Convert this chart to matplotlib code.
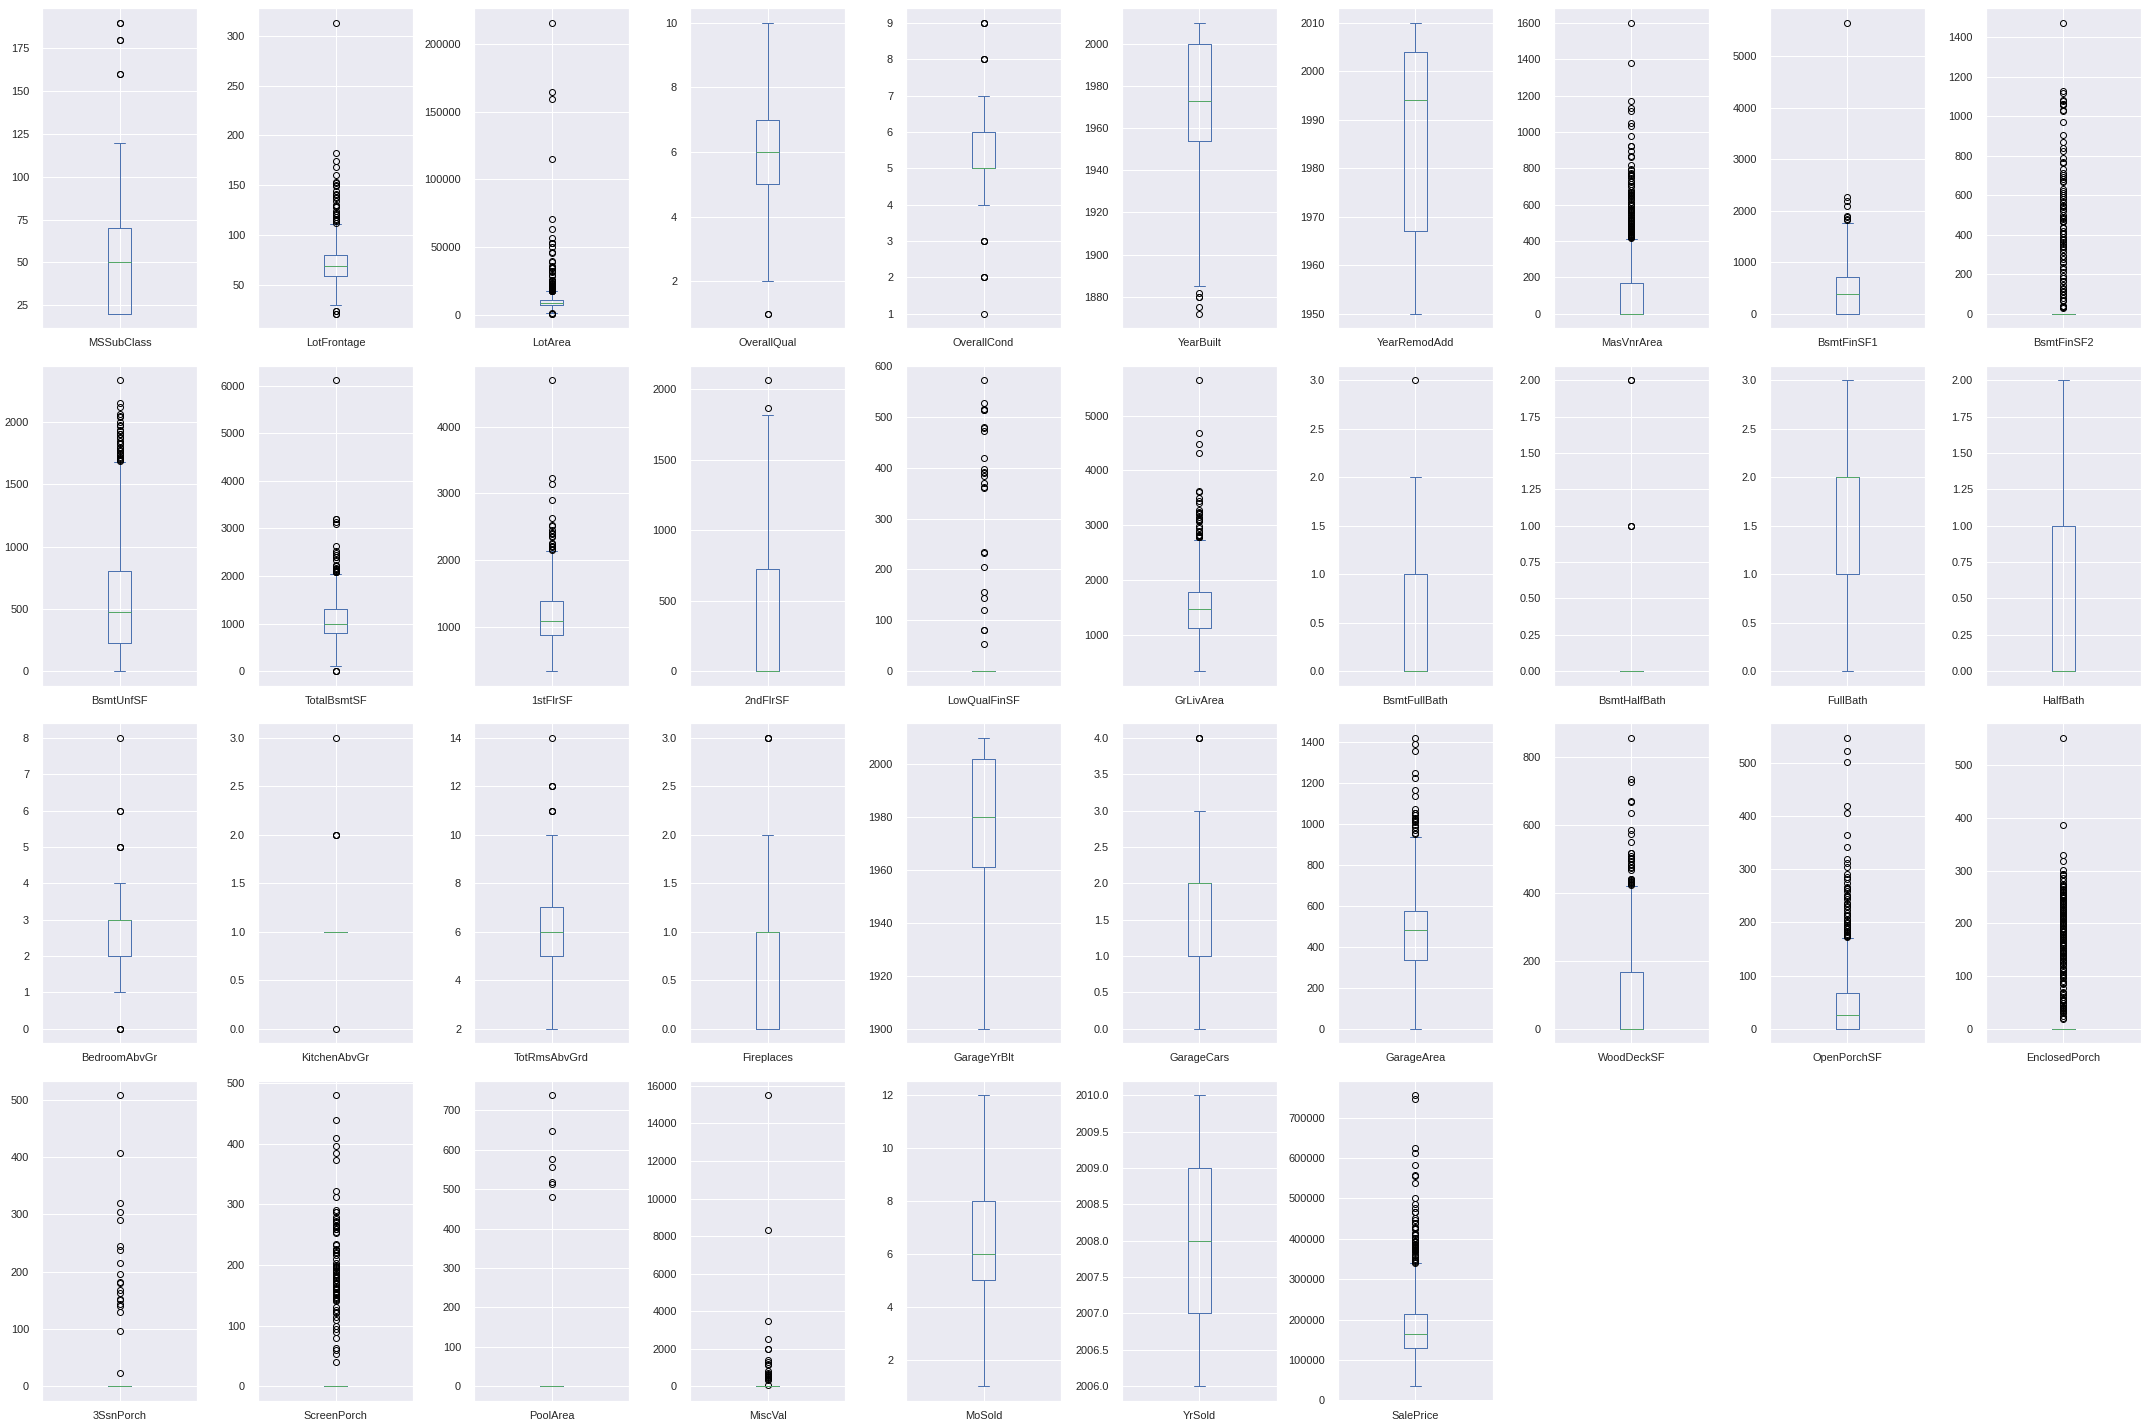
import matplotlib
matplotlib.use("Agg")
import matplotlib.pyplot as plt
import seaborn as sns

columns = ['MSSubClass', 'LotFrontage', 'LotArea', 'OverallQual', 'OverallCond', 'YearBuilt',
           'YearRemodAdd', 'MasVnrArea', 'BsmtFinSF1', 'BsmtFinSF2', 'BsmtUnfSF', 'TotalBsmtSF',
           '1stFlrSF', '2ndFlrSF', 'LowQualFinSF', 'GrLivArea', 'BsmtFullBath', 'BsmtHalfBath',
           'FullBath', 'HalfBath', 'BedroomAbvGr', 'KitchenAbvGr', 'TotRmsAbvGrd', 'Fireplaces',
           'GarageYrBlt', 'GarageCars', 'GarageArea', 'WoodDeckSF', 'OpenPorchSF', 'EnclosedPorch',
           '3SsnPorch', 'ScreenPorch', 'PoolArea', 'MiscVal', 'MoSold', 'YrSold', 'SalePrice']

q1 = [20, 59, 7553.5, 5, 5, 1954, 1967, 0, 0, 0,
      223, 795.75, 882, 0, 0, 1129.5, 0, 0, 1, 0,
      2, 1, 5, 0, 1961, 1, 334.5, 0, 0, 0,
      0, 0, 0, 0, 5, 2007, 129975]
med = [50, 69, 9478.5, 6, 5, 1973, 1994, 0, 383.5, 0,
       477.5, 991.5, 1087, 0, 0, 1464, 0, 0, 2, 0,
       3, 1, 6, 1, 1980, 2, 480, 0, 25, 0,
       0, 0, 0, 0, 6, 2008, 163000]
q3 = [70, 80, 11601.5, 7, 6, 2000, 2004, 166, 712.25, 0,
      808, 1298.25, 1391.25, 728, 0, 1776.75, 1, 0, 2, 1,
      3, 1, 7, 1, 2002, 2, 576, 168, 68, 0,
      0, 0, 0, 0, 8, 2009, 214000]
whis_lo = [20, 30, 1491, 2, 4, 1885, 1950, 0, 0, 0,
           0, 105, 334, 0, 0, 334, 0, 0, 0, 0,
           1, 1, 2, 0, 1900, 0, 0, 0, 0, 0,
           0, 0, 0, 0, 1, 2006, 34900]
whis_hi = [120, 111, 17671, 10, 7, 2010, 2010, 412, 1767, 0,
           1680, 2046, 2136, 1818, 0, 2730, 2, 0, 3, 2,
           4, 1, 10, 2, 2010, 3, 936, 420, 170, 0,
           0, 0, 0, 0, 12, 2010, 340000]

fliers = [
    [160, 160, 180, 180, 190, 190],
    [21, 21, 24, 24, 112, 114, 115, 116, 118, 120, 121, 122, 124, 128, 129, 130, 134, 137, 138,
     140, 141, 144, 149, 150, 152, 153, 160, 168, 174, 182, 313],
    [1300, 1300, 1477, 17755, 17871, 17920, 18030, 18386, 18450, 18800, 19138, 19296, 19378,
     19690, 19900, 20431, 20544, 20896, 21000, 21286, 21384, 21453, 21535, 21695, 21750, 21872,
     21930, 22420, 22950, 23257, 23595, 24090, 25095, 25286, 25339, 25419, 26142, 26178, 28698,
     29959, 31770, 32463, 32668, 34650, 35133, 35760, 36500, 39104, 40094, 45600, 46589, 50271,
     53107, 53227, 53504, 57200, 63887, 70761, 115149, 159000, 164660, 215245],
    [1, 1],
    [1, 2, 2, 2, 3, 3, 3, 8, 8, 8, 9, 9, 9],
    [1872, 1875, 1880, 1880, 1882],
    [],
    [416, 420, 424, 425, 426, 428, 430, 435, 436, 438, 442, 448, 450, 452, 456, 459, 464, 466,
     468, 472, 479, 480, 481, 491, 500, 506, 510, 513, 514, 523, 528, 530, 541, 554, 562, 567,
     571, 573, 576, 584, 594, 600, 604, 616, 630, 632, 640, 650, 651, 653, 660, 664, 668, 672,
     680, 700, 705, 714, 726, 731, 748, 760, 762, 766, 772, 788, 796, 816, 860, 870, 894, 921,
     922, 975, 1031, 1047, 1115, 1129, 1170, 1378, 1600],
    [1810, 1836, 1880, 1904, 2096, 2188, 2260, 5644],
    [28, 32, 35, 40, 41, 64, 68, 81, 93, 96, 108, 117, 123, 128, 147, 163, 168, 182, 193, 210,
     228, 239, 258, 264, 276, 290, 294, 311, 326, 336, 345, 352, 362, 374, 380, 391, 404, 411,
     420, 435, 441, 465, 469, 472, 479, 486, 492, 500, 522, 532, 543, 547, 551, 564, 580, 590,
     600, 612, 622, 630, 668, 670, 682, 692, 704, 712, 735, 764, 768, 791, 823, 841, 869, 906,
     973, 1029, 1031, 1057, 1061, 1063, 1080, 1085, 1120, 1127, 1474],
    [1689, 1694, 1702, 1710, 1721, 1734, 1746, 1752, 1768, 1777, 1790, 1800, 1826, 1836, 1848,
     1869, 1880, 1905, 1907, 1926, 1935, 1969, 1980, 2002, 2042, 2046, 2062, 2121, 2153, 2336],
    [0, 0, 0, 2076, 2077, 2078, 2109, 2110, 2121, 2136, 2153, 2158, 2216, 2223, 2330, 2392,
     2396, 2444, 2492, 2524, 2633, 3094, 3138, 3200, 3206, 6110],
    [2156, 2158, 2196, 2207, 2217, 2234, 2259, 2338, 2364, 2392, 2402, 2411, 2444, 2515, 2524,
     2633, 2898, 3138, 3228, 4692],
    [1872, 2065],
    [53, 80, 80, 120, 144, 156, 205, 232, 234, 360, 362, 371, 384, 390, 392, 397, 420, 473,
     479, 481, 513, 514, 515, 528, 572],
    [2775, 2784, 2787, 2792, 2810, 2822, 2828, 2868, 2872, 2898, 2945, 2978, 3078, 3082, 3086,
     3112, 3140, 3194, 3222, 3228, 3238, 3279, 3395, 3447, 3493, 3608, 3627, 4316, 4476, 4676,
     5642],
    [3],
    [1, 1, 1, 2, 2],
    [],
    [],
    [0, 0, 0, 5, 5, 5, 6, 6, 8],
    [0, 2, 2, 2, 3],
    [11, 11, 11, 12, 12, 12, 14],
    [3, 3, 3],
    [],
    [4, 4, 4],
    [947, 954, 968, 983, 995, 1008, 1014, 1017, 1020, 1025, 1043, 1052, 1053, 1069, 1134, 1166,
     1220, 1248, 1356, 1390, 1418],
    [424, 426, 428, 431, 433, 436, 439, 440, 441, 468, 474, 476, 481, 486, 495, 500, 503, 509,
     517, 519, 550, 574, 586, 635, 668, 670, 728, 736, 857],
    [172, 174, 175, 176, 178, 182, 184, 187, 188, 191, 192, 195, 198, 200, 205, 207, 211, 213,
     218, 224, 228, 231, 234, 236, 244, 247, 250, 252, 258, 263, 265, 267, 274, 282, 285, 291,
     304, 312, 319, 341, 364, 406, 418, 502, 523, 547],
    [19, 20, 24, 30, 32, 34, 36, 37, 39, 40, 42, 44, 48, 52, 54, 55, 56, 60, 64, 67, 68, 70,
     77, 84, 86, 87, 91, 96, 98, 100, 102, 104, 108, 112, 114, 116, 120, 123, 126, 128, 130,
     134, 136, 137, 140, 143, 144, 145, 148, 150, 154, 156, 158, 160, 162, 164, 168, 169, 170,
     172, 174, 176, 177, 180, 183, 184, 185, 189, 190, 192, 194, 196, 198, 200, 202, 205, 208,
     210, 212, 214, 216, 218, 220, 221, 224, 226, 228, 230, 234, 236, 239, 240, 242, 244, 248,
     250, 252, 253, 256, 259, 260, 264, 265, 268, 271, 272, 275, 280, 286, 291, 293, 294, 301,
     318, 330, 386, 552],
    [23, 96, 130, 140, 144, 150, 153, 162, 168, 180, 182, 196, 216, 238, 245, 290, 304, 320,
     407, 508],
    [40, 53, 60, 63, 80, 90, 95, 100, 110, 115, 120, 122, 126, 130, 140, 142, 144, 145, 147,
     150, 152, 154, 155, 156, 160, 161, 162, 163, 165, 168, 170, 171, 175, 176, 178, 180, 182,
     184, 185, 189, 190, 192, 195, 196, 197, 198, 200, 204, 210, 216, 220, 222, 224, 225, 227,
     233, 234, 252, 255, 259, 260, 263, 264, 265, 266, 271, 273, 276, 280, 287, 288, 291, 312,
     322, 374, 385, 396, 410, 440, 480],
    [480, 512, 519, 555, 576, 648, 738],
    [54, 350, 400, 450, 480, 500, 560, 600, 620, 650, 700, 800, 1150, 1200, 1300, 1400, 2000,
     2000, 2500, 3500, 8300, 15500],
    [],
    [],
    [341000, 342643, 345000, 348000, 350000, 354000, 359100, 360000, 367294, 369900, 370878,
     372402, 372500, 375000, 376162, 377426, 377500, 378500, 380000, 381000, 383970, 384500,
     385000, 386250, 392000, 392500, 394432, 394617, 402000, 402861, 410000, 412500, 415298,
     423000, 426000, 430000, 438780, 440000, 446261, 451950, 465000, 466500, 475000, 485000,
     501837, 538000, 555000, 556581, 582933, 611657, 625000, 745000, 755000],
]

sns.set_theme(style="darkgrid")
plt.rcParams['font.family'] = ['Liberation Sans', 'DejaVu Sans']
plt.rcParams['xtick.major.pad'] = 4
plt.rcParams['ytick.major.pad'] = 7

blue = '#4C72B0'
green = '#55A868'

fig, axes = plt.subplots(4, 10, figsize=(2148 / 72, 1428 / 72), dpi=72)
fig.subplots_adjust(left=0.0196, right=0.9967, top=0.9942, bottom=0.0191,
                    wspace=0.3935, hspace=0.1175)

for i, ax in enumerate(axes.flat):
    if i >= len(columns):
        ax.set_visible(False)
        continue
    stats = [{'label': columns[i], 'q1': q1[i], 'med': med[i], 'q3': q3[i],
              'whislo': whis_lo[i], 'whishi': whis_hi[i], 'fliers': fliers[i]}]
    ax.bxp(stats,
           boxprops=dict(color=blue, linewidth=1.0),
           whiskerprops=dict(color=blue, linewidth=1.0),
           capprops=dict(color=blue, linewidth=1.0),
           medianprops=dict(color=green, linewidth=1.0),
           flierprops=dict(marker='o', markerfacecolor='none', markeredgecolor='black',
                           markersize=6, markeredgewidth=1.0))
    ax.tick_params(labelsize=11)

fig.savefig('out.png', dpi=72)
